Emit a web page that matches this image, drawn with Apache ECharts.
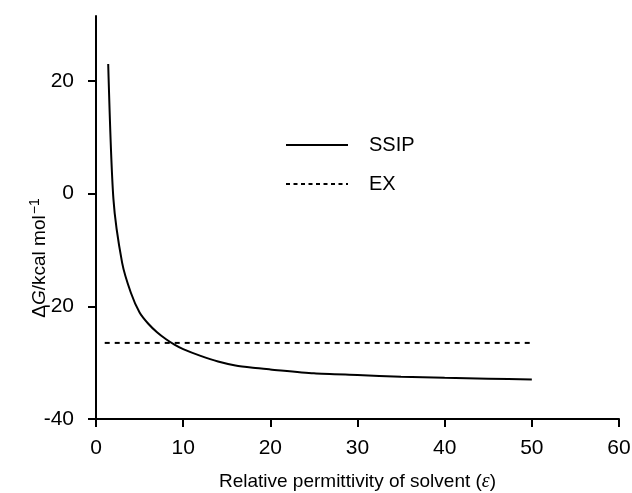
<!DOCTYPE html>
<html>
<head>
<meta charset="utf-8">
<script src="https://cdn.jsdelivr.net/npm/echarts@6/dist/echarts.min.js"></script>
<style>
  html, body { margin: 0; padding: 0; background: #fff; }
  #chart { width: 632px; height: 493px; }
</style>
</head>
<body>
<div id="chart"></div>
<script>
// values
var ssipEps = [1.4, 2, 3, 4, 5, 6, 7, 8, 9, 10, 12, 14, 16, 18, 20, 25, 30, 35, 40, 45, 50];
var ssipDG = [23, -1, -12.3, -17.6, -21.1, -23.1, -24.6, -25.8, -26.8, -27.6, -28.8, -29.8, -30.5, -30.9, -31.2, -31.9, -32.2, -32.5, -32.7, -32.85, -33];
var exEps = [1, 50];
var exDG = [-26.5, -26.5];
var yTicks = [-40, -20, 0, 20];

var font = '"Liberation Sans", Arial, sans-serif';

function pairs(xs, ys) {
    var out = [];
    for (var i = 0; i < xs.length; i++) {
        out.push([xs[i], ys[i]]);
    }
    return out;
}

var chart = echarts.init(document.getElementById('chart'));
var option = {
    animation: false,
    backgroundColor: '#fff',
    grid: { left: 96, right: 13, top: 16, bottom: 74, outerBoundsMode: 'none' },
    legend: {
        orient: 'vertical',
        left: 280,
        top: 130,
        itemWidth: 62,
        itemHeight: 20,
        itemGap: 19,
        itemStyle: { opacity: 0 },
        textStyle: { fontFamily: font, fontSize: 20, color: '#000', padding: [0, 0, 0, 16] },
        data: [
            { name: 'SSIP' },
            { name: 'EX', lineStyle: { type: [4, 3.5] } }
        ]
    },
    xAxis: {
        type: 'value',
        min: 0,
        max: 60,
        interval: 10,
        name: 'Relative permittivity of solvent ({i|ε})',
        nameLocation: 'middle',
        nameGap: 53,
        nameTextStyle: {
            fontFamily: font, fontSize: 19, color: '#000',
            rich: { i: { fontFamily: '"Liberation Serif", serif', fontStyle: 'italic', fontSize: 20, color: '#000' } }
        },
        axisLine: { onZero: false, lineStyle: { color: '#000', width: 2 } },
        axisTick: { length: 8, lineStyle: { color: '#000', width: 2 } },
        axisLabel: { fontFamily: font, fontSize: 21, color: '#000', margin: 19 },
        splitLine: { show: false }
    },
    yAxis: {
        type: 'value',
        min: -40,
        max: 31.5,
        interval: 20,
        axisLine: { lineStyle: { color: '#000', width: 2 } },
        axisTick: { length: 8, customValues: yTicks, lineStyle: { color: '#000', width: 2 } },
        axisLabel: { fontFamily: font, fontSize: 21, color: '#000', margin: 22, customValues: yTicks },
        splitLine: { show: false }
    },
    graphic: [{
        type: 'text',
        x: 40,
        y: 258,
        rotation: Math.PI / 2,
        style: {
            text: 'Δ{i|G}/kcal mol{sup|−1}',
            fontFamily: font,
            fontSize: 19,
            fill: '#000',
            align: 'center',
            verticalAlign: 'middle',
            rich: {
                i: { fontFamily: font, fontStyle: 'italic', fontSize: 19, fill: '#000' },
                sup: { fontFamily: font, fontSize: 14, fill: '#000', padding: [0, 0, 9, 1] }
            }
        }
    }],
    series: [
        {
            name: 'SSIP',
            type: 'line',
            symbol: 'none',
            smooth: 0.25,
            data: pairs(ssipEps, ssipDG),
            lineStyle: { color: '#000', width: 2 },
            itemStyle: { color: '#000' }
        },
        {
            name: 'EX',
            type: 'line',
            symbol: 'none',
            data: pairs(exEps, exDG),
            lineStyle: { color: '#000', width: 2, type: [5, 5] },
            itemStyle: { color: '#000' }
        }
    ]
};
chart.setOption(option);
</script>
</body>
</html>
